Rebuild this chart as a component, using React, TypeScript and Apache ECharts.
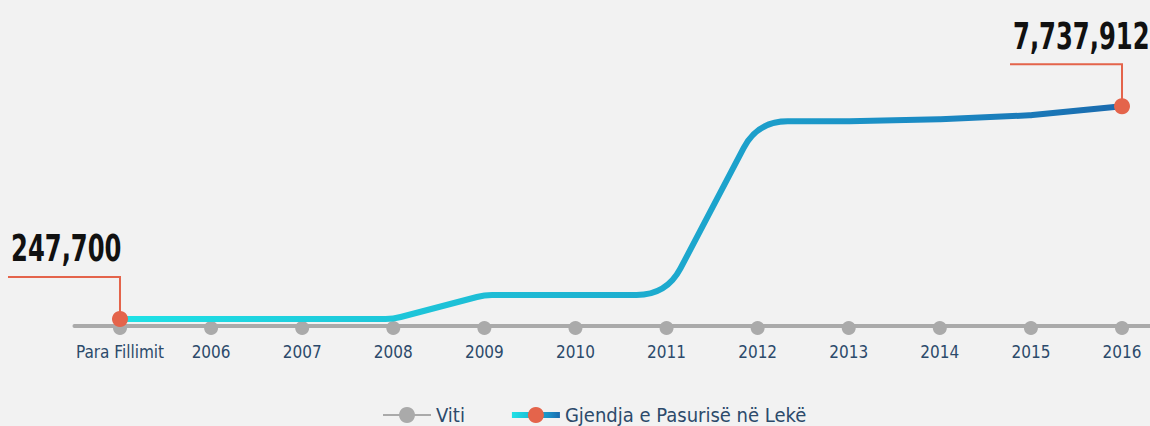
import React, { useEffect, useRef } from "react";
import * as echarts from "echarts";

const categories = ["Para Fillimit", "2006", "2007", "2008", "2009", "2010", "2011", "2012", "2013", "2014", "2015", "2016"];
const wealthValues = [247700, 247700, 247700, 247700, 1090000, 1090000, 1090000, 7210000, 7210000, 7280000, 7420000, 7737912];
const vitiValues = [0, 0, 0, 0, 0, 0, 0, 0, 0, 0, 0, 0];
const seriesNames = ["Viti", "Gjendja e Pasurisë në Lekë"];

const FONT = "'DejaVu Sans Condensed', 'Liberation Sans Narrow', sans-serif";
const ORANGE = "#e4644b";
const GRAY = "#aaaaaa";
const TEXT_BLUE = "#2c4a6b";
const STOPS = [
  { offset: 0, color: "#1fe2e6" },
  { offset: 0.45, color: "#1db5d2" },
  { offset: 0.8, color: "#1b8bc4" },
  { offset: 1, color: "#1a6aae" },
];
const LEGEND_ITEM_W = 48;

function makeGradient() {
  return new echarts.graphic.LinearGradient(0, 0, 1, 0, STOPS);
}

export default function App() {
  const ref = useRef<HTMLDivElement>(null);

  useEffect(() => {
    if (!ref.current) return;
    const chart = echarts.init(ref.current, null, { renderer: "svg" });
    const last = wealthValues.length - 1;
    const R = 30;

    const renderItem = (params: any, api: any) => {
      if (params.dataIndex !== 0) return null;
      const pts = wealthValues.map((v, i) => api.coord([i, v]));
      let d = `M${pts[0][0]},${pts[0][1]}`;
      for (let i = 1; i < pts.length - 1; i++) {
        const [px, py] = pts[i - 1];
        const [cx, cy] = pts[i];
        const [nx, ny] = pts[i + 1];
        const d1 = Math.hypot(px - cx, py - cy);
        const d2 = Math.hypot(nx - cx, ny - cy);
        const a1 = Math.atan2(cy - py, cx - px);
        const a2 = Math.atan2(ny - cy, nx - cx);
        let turn = Math.abs(a2 - a1);
        if (turn > Math.PI) turn = 2 * Math.PI - turn;
        const r = Math.min(R * Math.min(1, turn), d1 / 2, d2 / 2);
        if (r < 0.5) {
          d += ` L${cx},${cy}`;
          continue;
        }
        const ax = cx + ((px - cx) / d1) * r;
        const ay = cy + ((py - cy) / d1) * r;
        const bx = cx + ((nx - cx) / d2) * r;
        const by = cy + ((ny - cy) / d2) * r;
        d += ` L${ax},${ay} Q${cx},${cy} ${bx},${by}`;
      }
      d += ` L${pts[last][0]},${pts[last][1]}`;

      const children: any[] = [
        {
          type: "path",
          shape: { pathData: d },
          style: { fill: "none", stroke: makeGradient(), lineWidth: 6, lineCap: "round", lineJoin: "round" },
        },
      ];
      [0, last].forEach((idx) => {
        const [x, y] = pts[idx];
        children.push({
          type: "polyline",
          shape: { points: [[x - 112, y - 42], [x, y - 42], [x, y]] },
          style: { fill: "none", stroke: ORANGE, lineWidth: 2 },
        });
        children.push({
          type: "text",
          x: x - 109,
          y: y - 52,
          scaleX: 0.71,
          style: {
            text: wealthValues[idx].toLocaleString("en-US"),
            fontSize: 38,
            fontWeight: "bold",
            fontFamily: FONT,
            fill: "#111111",
            align: "left",
            verticalAlign: "bottom",
          },
        });
      });
      return { type: "group", children };
    };

    chart.setOption({
      animation: false,
      backgroundColor: "#f2f2f2",
      grid: { left: 74.45, width: 1093.1, top: 42, bottom: 100 },
      legend: {
        data: [
          { name: seriesNames[0] },
          {
            name: seriesNames[1],
            lineStyle: { color: new echarts.graphic.LinearGradient(0, 0, LEGEND_ITEM_W, 0, STOPS, true), width: 6 },
          },
        ],
        left: 377,
        top: 400,
        itemWidth: LEGEND_ITEM_W,
        itemHeight: 20,
        itemGap: 44,
        textStyle: { fontSize: 20, color: TEXT_BLUE, fontFamily: FONT },
      },
      xAxis: {
        type: "category",
        data: categories,
        boundaryGap: true,
        axisLine: { lineStyle: { color: GRAY, width: 4 } },
        axisTick: { show: false },
        splitLine: { show: false },
        axisLabel: { interval: 0, color: TEXT_BLUE, fontSize: 17, margin: 17, fontFamily: FONT },
      },
      yAxis: { type: "value", min: 0, max: 10000000, show: false },
      series: [
        {
          name: seriesNames[0],
          type: "line",
          data: vitiValues,
          z: 1,
          symbol: "circle",
          symbolSize: 14,
          symbolOffset: [0, 2],
          itemStyle: { color: GRAY },
          lineStyle: { color: GRAY, width: 4 },
          silent: true,
        },
        {
          name: "trend",
          type: "custom",
          z: 2,
          data: wealthValues.map((v, i) => [i, v]),
          encode: { x: 0, y: 1 },
          renderItem,
          silent: true,
        },
        {
          name: seriesNames[1],
          type: "line",
          z: 3,
          data: wealthValues.map((v, i) => (i === 0 || i === last ? v : "-")),
          connectNulls: false,
          showSymbol: true,
          symbol: "circle",
          symbolSize: 16,
          itemStyle: { color: ORANGE },
          lineStyle: { width: 6, color: makeGradient() },
          silent: true,
        },
      ],
    });

    return () => chart.dispose();
  }, []);

  return (
    <div
      ref={ref}
      style={{ position: "fixed", left: 0, top: 0, width: 1170, height: 426 }}
    />
  );
}
